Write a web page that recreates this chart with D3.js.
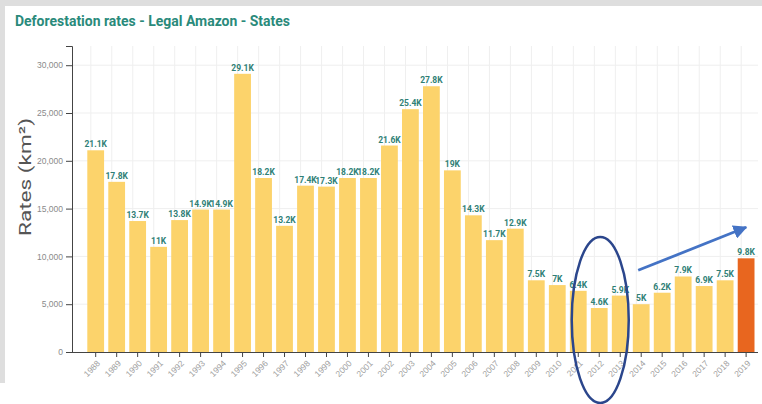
<!DOCTYPE html>
<html>
<head>
<meta charset="utf-8">
<script src="https://cdn.jsdelivr.net/npm/d3@7"></script>
<style>
  html, body { margin: 0; padding: 0; background: #ffffff; }
  svg { display: block; font-family: Roboto, "Noto Sans", Arial, sans-serif; }
</style>
</head>
<body>
<svg id="chart" width="762" height="404"></svg>
<script>
// Annual deforestation rates, Legal Amazon (PRODES), in km²
const years = ["1988","1989","1990","1991","1992","1993","1994","1995","1996","1997",
  "1998","1999","2000","2001","2002","2003","2004","2005","2006","2007","2008","2009",
  "2010","2011","2012","2013","2014","2015","2016","2017","2018","2019"];
const rates = [21100, 17800, 13700, 11000, 13800, 14900, 14900, 29100, 18200, 13200,
  17400, 17300, 18200, 18200, 21600, 25400, 27800, 19000, 14300, 11700, 12900, 7500,
  7000, 6400, 4600, 5900, 5000, 6200, 7900, 6900, 7500, 9800];
const yTicks = [0, 5000, 10000, 15000, 20000, 25000, 30000];
const highlightYear = "2019";
const title = "Deforestation rates - Legal Amazon - States";
const yTitle = "Rates (km²)";

const svg = d3.select("#chart");
const W = 762, H = 404;

// page frame: grey strip on top and left
svg.append("rect").attr("x", 0).attr("y", 0).attr("width", W).attr("height", H).attr("fill", "#ffffff");
svg.append("rect").attr("x", 0).attr("y", 0).attr("width", W).attr("height", 6).attr("fill", "#dedede");
svg.append("rect").attr("x", 0).attr("y", 0).attr("width", 5).attr("height", 383).attr("fill", "#dedede");

svg.append("text")
  .attr("x", 15).attr("y", 26)
  .attr("font-size", 14).attr("font-weight", 700)
  .attr("fill", "#2a8a7b")
  .attr("textLength", 275).attr("lengthAdjust", "spacingAndGlyphs")
  .text(title);

const x0 = 72, x1 = 758;
const plotTop = 46, plotBottom = 352;

const x = d3.scaleBand().domain(years).range([85.2, 756.6]).paddingInner(0.2).paddingOuter(0.1);
const y = d3.scaleLinear().domain([0, d3.max(rates) * 1.1]).range([plotBottom, plotTop]);

// faint grid
const grid = svg.append("g").attr("stroke", "#efefef").attr("stroke-width", 1);
grid.selectAll("line.h").data(yTicks.slice(1)).join("line")
  .attr("x1", x0).attr("x2", x1)
  .attr("y1", d => y(d)).attr("y2", d => y(d));
grid.selectAll("line.v").data(years).join("line")
  .attr("x1", d => x(d) + 3.5).attr("x2", d => x(d) + 3.5)
  .attr("y1", plotTop).attr("y2", plotBottom);

// bars
svg.append("g").selectAll("rect").data(years).join("rect")
  .attr("x", d => x(d))
  .attr("width", x.bandwidth())
  .attr("y", (d, i) => y(rates[i]))
  .attr("height", (d, i) => y(0) - y(rates[i]))
  .attr("fill", d => d === highlightYear ? "#e8661f" : "#fcd36b");

// value labels
const fmt = v => (Math.round(v / 100) / 10).toString() + "K";
svg.append("g").selectAll("text").data(years).join("text")
  .attr("x", d => x(d) + x.bandwidth() / 2)
  .attr("y", (d, i) => y(rates[i]) - 3)
  .attr("text-anchor", "middle")
  .attr("font-size", 8.5).attr("font-weight", 700)
  .attr("fill", "#2f7f76")
  .text((d, i) => fmt(rates[i]));

// y axis
const yAxis = svg.append("g").attr("transform", `translate(${x0},0)`)
  .call(d3.axisLeft(y).tickValues(yTicks).tickFormat(d3.format(",")).tickSize(6).tickPadding(3));
yAxis.selectAll("text").attr("font-size", 8.5).attr("fill", "#8a8a8a");
yAxis.selectAll("line, path").attr("stroke", "#444");

// x axis
const xAxis = svg.append("g").attr("transform", `translate(0,${plotBottom})`)
  .call(d3.axisBottom(x).tickSize(5).tickSizeOuter(0));
xAxis.select(".domain").attr("d", `M${x0},0.5H${x1}`).attr("stroke", "#444");
xAxis.selectAll("line").attr("stroke", "#444");
xAxis.selectAll("text")
  .attr("font-size", 8.5).attr("fill", "#a0a0a0")
  .attr("text-anchor", "end")
  .attr("y", 0).attr("dy", 0)
  .attr("transform", "translate(5,12) rotate(-45)");

// y axis title
svg.append("text")
  .attr("transform", "translate(31,177) rotate(-90)")
  .attr("text-anchor", "middle")
  .attr("font-size", 17).attr("fill", "#555")
  .attr("textLength", 118).attr("lengthAdjust", "spacingAndGlyphs")
  .text(yTitle);

// annotation: ellipse around 2011-2013 and trend arrow toward 2019
const cx2012 = x("2012") + x.bandwidth() / 2;
svg.append("ellipse")
  .attr("cx", cx2012 + 1).attr("cy", y(0) - 32)
  .attr("rx", 28.5).attr("ry", 83)
  .attr("fill", "none").attr("stroke", "#2b468c").attr("stroke-width", 2.5);

svg.append("defs").append("marker")
  .attr("id", "head").attr("viewBox", "0 0 10 10")
  .attr("refX", 9).attr("refY", 5)
  .attr("markerWidth", 5).attr("markerHeight", 5)
  .attr("markerUnits", "strokeWidth")
  .attr("orient", "auto")
  .append("path").attr("d", "M0,0L10,5L0,10Z").attr("fill", "#4473c5");

const ax0 = x("2014") + x.bandwidth() / 2 - 3;
const ax1 = x("2019") + x.bandwidth() / 2;
svg.append("line")
  .attr("x1", ax0).attr("y1", y(9800) + 12)
  .attr("x2", ax1).attr("y2", y(9800) - 31)
  .attr("stroke", "#4473c5").attr("stroke-width", 2.8)
  .attr("marker-end", "url(#head)");
</script>
</body>
</html>
